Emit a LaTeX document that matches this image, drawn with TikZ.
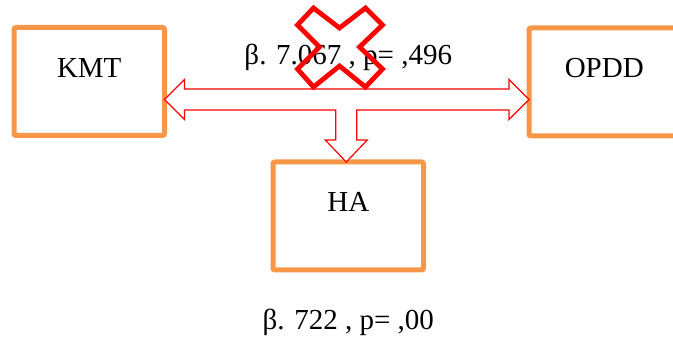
\documentclass[tikz,border=0pt]{standalone}
\usepackage{fontspec}
\setmainfont{Liberation Serif}
\usepackage{tikz}
\usetikzlibrary{positioning, calc}

\definecolor{boxorange}{HTML}{F79646}

\begin{document}
\begin{tikzpicture}[
    x=0.5pt, y=-0.5pt,
    block/.style={rectangle, draw=boxorange, line width=2.5pt, rounded corners=1pt, outer sep=0pt, minimum width=75.25pt, minimum height=54pt},
    lbl/.style={anchor=base, inner sep=0pt, font=\fontsize{14.5}{17}\selectfont},
    bigarrow/.style={draw=red, fill=white, line width=0.6pt},
    crossmark/.style={draw=red, line width=2.4pt, miter limit=10}
]
\clip (0,0) rectangle (673,340);

\node [block] (kmt) at (89.25,81.5) {};
\node [block] (opdd) at (604.25,82) {};
\node [block] (ha) at (348.25,216) {};

\node [lbl] (kmttxt) at ($(kmt.north)+(0,50.5)$) {KMT};
\node [lbl] (opddtxt) at ($(opdd.north)+(0,49.5)$) {OPDD};
\node [lbl] (hatxt) at ($(ha.north)+(0,50)$) {HA};
\node [lbl] (toptxt) at ($(ha.north)+(0,-97)$) {β. 7.067 , p= ,496};
\node [lbl] (bottxt) at ($(ha.south)+(0,60)$) {β. 722 , p= ,00};

% T-shaped block arrow between the boxes
\coordinate (axis) at (0,99.5);
\coordinate (ltip) at (kmt.east |- axis);
\coordinate (rtip) at (opdd.west |- axis);
\coordinate (dtip) at ($(ha.north)+(-2,0)$);
\path [bigarrow] (ltip) -- ++(20,-20) -- ++(0,9.5)
    -- ($(rtip)+(-20,-10.5)$) -- ++(0,-9.5) -- (rtip) -- ++(-20,20) -- ++(0,-9.5)
    -- ($(dtip |- axis)+(10.5,10.5)$) -- ($(dtip)+(10.5,-22)$) -- ++(10.5,0) -- (dtip)
    -- ++(-21,-22) -- ++(10.5,0) -- ($(dtip |- axis)+(-10.5,10.5)$)
    -- ($(ltip)+(20,10.5)$) -- ++(0,9.5) -- cycle;

% red cross over the upper value
\coordinate (xc) at (339.5,47);
\path [crossmark] ($(xc)+(-42,-22)$) -- ($(xc)+(-26,-39)$) -- ($(xc)+(0,-19)$)
    -- ($(xc)+(26,-39)$) -- ($(xc)+(43,-22)$) -- ($(xc)+(20,0)$)
    -- ($(xc)+(43,22)$) -- ($(xc)+(26,40)$) -- ($(xc)+(0,19)$)
    -- ($(xc)+(-26,40)$) -- ($(xc)+(-42,22)$) -- ($(xc)+(-20,0)$) -- cycle;

\end{tikzpicture}
\end{document}
